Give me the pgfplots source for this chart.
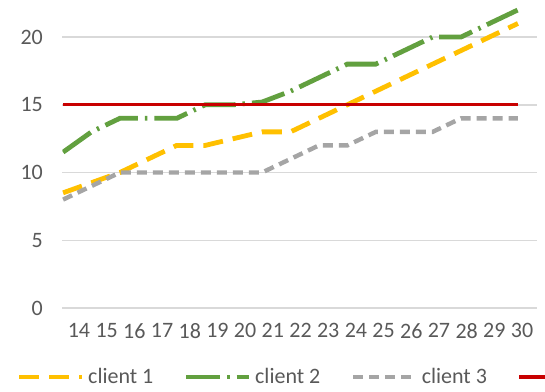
\documentclass[border=0pt]{standalone}
\usepackage{fontspec}
\setmainfont{Carlito}
\usepackage{pgfplots}
\pgfplotsset{compat=1.18}
\definecolor{cYel}{HTML}{FFC000}
\definecolor{cGrn}{HTML}{62A03F}
\definecolor{cGry}{HTML}{A5A5A5}
\definecolor{cRed}{HTML}{C80000}
\definecolor{cTxt}{HTML}{595959}
\definecolor{cGrid}{HTML}{D9D9D9}
\begin{document}
\begin{tikzpicture}
\useasboundingbox (-31pt,-41.5pt) rectangle (241.5pt,154pt);
\clip (-31pt,-41.5pt) rectangle (241.5pt,154pt);
\begin{axis}[
  at={(0.25pt,0pt)}, anchor=south west,
  scale only axis, width=237.25pt, height=169.375pt,
  xmin=13.98, xmax=30.67, ymin=0, ymax=25,
  xtick={14.56,15.534,16.508,17.482,18.456,19.43,20.404,21.378,22.352,23.326,24.30,25.274,26.248,27.222,28.196,29.17,30.144},
  xticklabels={14,15,16,17,18,19,20,21,22,23,24,25,26,27,28,29,30},
  ytick={0,5,10,15,20},
  axis line style={draw=none},
  tick style={draw=none},
  ymajorgrids, major grid style={cGrid, line width=0.75pt},
  font=\fontsize{11}{13}\selectfont,
  /pgf/number format/assume math mode=true,
  ticklabel style={text=cTxt},
  yticklabel style={xshift=-6.3pt},
  xticklabel style={yshift=-4.3pt},
  legend columns=4,
  legend style={at={(axis description cs:0,0)}, anchor=west, xshift=-23pt, yshift=-34.5pt,
    draw=none, fill=none, inner sep=0pt, text=cTxt, font=\fontsize{11}{13}\selectfont,
    nodes={inner xsep=1.75pt},
    /tikz/every even column/.append style={column sep=13.5pt}},
  legend image code/.code={\draw[#1] (0pt,0pt) -- (31.5pt,0pt);},
]
\addplot[cYel, line width=2.4pt, dash pattern=on 10pt off 5pt] coordinates {
(14,8.5)(15,9.25)(16,10)(17,11)(18,12)(19,12)(20,12.5)(21,13)(22,13)(23,14)(24,15)(25,16)(26,17)(27,18)(28,19)(29,20)(30,21)};
\addlegendentry{client 1}
\addplot[cGrn, line width=2.4pt, dash pattern=on 17pt off 3.5pt on 1.2pt off 3.5pt] coordinates {
(14,11.5)(15,13)(16,14)(17,14)(18,14)(19,15)(20,15)(21,15.2)(22,16)(23,17)(24,18)(25,18)(26,19)(27,20)(28,20)(29,21)(30,22)};
\addlegendentry{client 2}
\addplot[cGry, line width=2.2pt, dash pattern=on 5pt off 3pt] coordinates {
(14,8)(15,9)(16,10)(17,10)(18,10)(19,10)(20,10)(21,10)(22,11)(23,12)(24,12)(25,13)(26,13)(27,13)(28,14)(29,14)(30,14)};
\addlegendentry{client 3}
\addplot[cRed, line width=1.6pt] coordinates {
(14,15)(15,15)(16,15)(17,15)(18,15)(19,15)(20,15)(21,15)(22,15)(23,15)(24,15)(25,15)(26,15)(27,15)(28,15)(29,15)(30,15)};
\addlegendentry{\phantom{target}}
\end{axis}
\end{tikzpicture}
\end{document}
